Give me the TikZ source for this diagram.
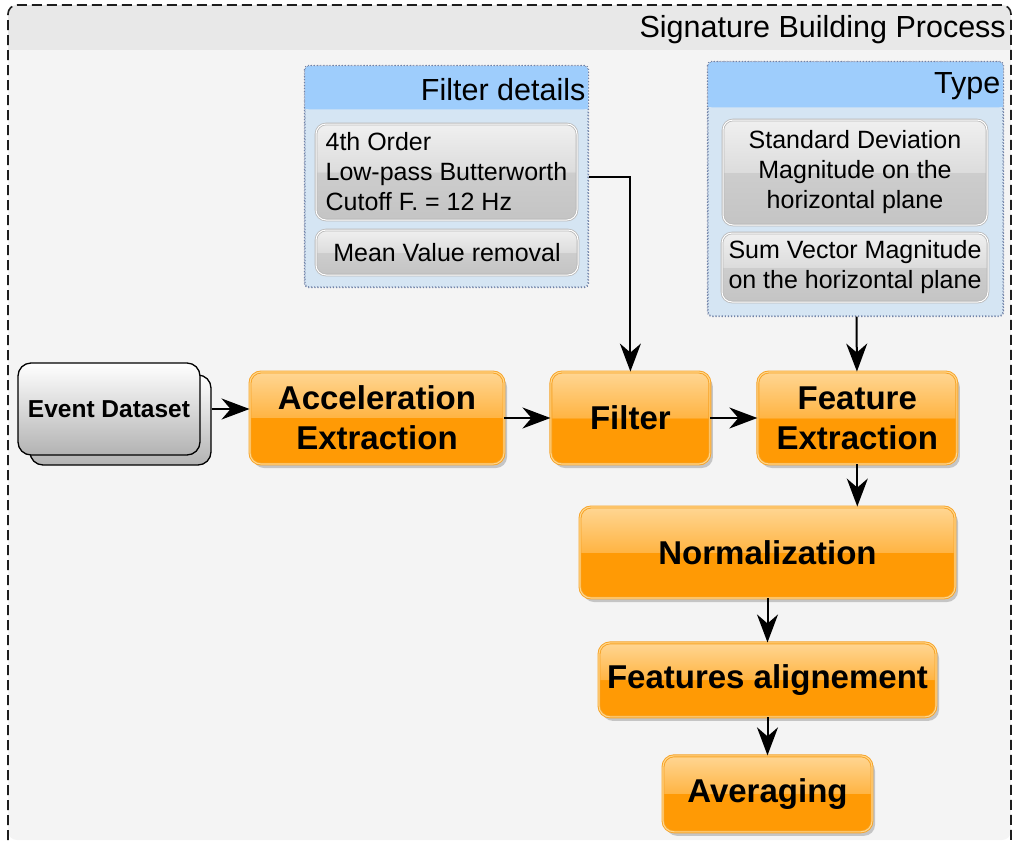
\documentclass[tikz,border=0pt]{standalone}
\usepackage{fontspec}
\setmainfont{Liberation Sans}
\usepackage{xcolor}
\usetikzlibrary{positioning,arrows.meta,calc,shadows}
\definecolor{framec}{HTML}{1E1E1E}
\definecolor{framebg}{HTML}{F4F4F4}
\definecolor{framehd}{HTML}{E8E8E8}
\definecolor{panbody}{HTML}{D5E5F3}
\definecolor{panhead}{HTML}{9ECDFC}
\definecolor{panline}{HTML}{6F82A8}
\definecolor{otop}{HTML}{FFD693}
\definecolor{omid}{HTML}{FFB443}
\definecolor{obot}{HTML}{FF9A05}
\definecolor{oline}{HTML}{F7A224}
\definecolor{olight}{HTML}{FFD68C}
\definecolor{gtop}{HTML}{F0F0F0}
\definecolor{gmid}{HTML}{DCDCDC}
\definecolor{gmidlo}{HTML}{CDCDCD}
\definecolor{gbot}{HTML}{C4C4C4}
\definecolor{gline}{HTML}{B9B9B9}
\pgfdeclareverticalshading{oglass}{100bp}{color(0bp)=(obot); color(50bp)=(obot);
  color(50bp)=(omid); color(75bp)=(otop); color(100bp)=(otop)}
\pgfdeclareverticalshading{gglass}{100bp}{color(0bp)=(gbot); color(25bp)=(gbot);
  color(50bp)=(gmidlo); color(50bp)=(gmid); color(75bp)=(gtop); color(100bp)=(gtop)}
\tikzset{
  proc/.style={shade,shading=oglass,draw=oline,double=olight,line width=.9pt,double distance=1.1pt,
               rounded corners=11pt,align=center,inner sep=0pt,
               font=\bfseries\fontsize{33}{40}\selectfont,
               drop shadow={shadow xshift=3pt,shadow yshift=-4pt,fill=black!45,opacity=.45}},
  item/.style={shade,shading=gglass,draw=gline,double=white,line width=.8pt,double distance=1pt,
               rounded corners=10pt,align=center,inner sep=0pt,
               font=\fontsize{25}{30}\selectfont},
  panel/.style={fill=panbody,draw=panline,line width=1.1pt,dotted,rounded corners=4pt,inner sep=0pt},
  ptitle/.style={anchor=east,inner sep=3pt,font=\fontsize{30.5}{33}\selectfont},
  data/.style={top color=white,bottom color=black!30,draw=black,line width=1.3pt,rounded corners=13pt,
               inner sep=0pt,align=center,font=\bfseries\fontsize{24.5}{28}\selectfont},
  fl/.style={-{Stealth[length=28pt,width=21pt,inset=9pt]},draw=black,line width=2pt}
}

\begin{document}
\begin{tikzpicture}[x=1pt,y=-1pt]
\useasboundingbox (0,0) rectangle (1013,841);
% outer frame
\path[fill=framebg,rounded corners=9pt] (8,840) -- (8,5) -- (1011,5) -- (1011,840) -- cycle;
\begin{scope}
  \clip[rounded corners=9pt] (8,840) -- (8,5) -- (1011,5) -- (1011,840) -- cycle;
  \fill[framehd] (8,5) rectangle (1011,50);
\end{scope}
\draw[framec,line width=1.6pt,dash pattern=on 10pt off 5pt,rounded corners=9pt]
  (8,840) -- (8,5) -- (1011,5) -- (1011,840);
\node[ptitle] (ttl) at (1009,30) {Signature Building Process};

% filter details
\node[panel,minimum width=283pt,minimum height=221pt] (fdet) at (446.5,176.5) {};
\fill[panhead,rounded corners=4pt] ($(fdet.north west)+(.6,.6)$) rectangle ($(fdet.north east)+(-.6,44)$);
\fill[panhead] ($(fdet.north west)+(.6,20)$) rectangle ($(fdet.north east)+(-.6,44)$);
\draw[panline,line width=1.1pt,dotted,rounded corners=4pt] (fdet.north west) rectangle (fdet.south east);
\node[ptitle] (fdett) at ($(fdet.north east)+(0,24)$) {Filter details};
\node[item,align=left,minimum width=261pt,minimum height=96pt] (fd1) at (446.5,172)
  {4th Order\\Low-pass Butterworth\\Cutoff F. = 12 Hz};
\node[item,minimum width=262pt,minimum height=45pt] (fd2) at (447,252.5) {Mean Value removal};

% type
\node[panel,minimum width=295pt,minimum height=254pt] (typ) at (855.5,189) {};
\fill[panhead,rounded corners=4pt] ($(typ.north west)+(.6,.6)$) rectangle ($(typ.north east)+(-.6,46)$);
\fill[panhead] ($(typ.north west)+(.6,20)$) rectangle ($(typ.north east)+(-.6,46)$);
\draw[panline,line width=1.1pt,dotted,rounded corners=4pt] (typ.north west) rectangle (typ.south east);
\node[ptitle] (typt) at ($(typ.north east)+(0,25)$) {Type};
\node[item,minimum width=264pt,minimum height=105pt] (ty1) at (855,172.5)
  {Standard Deviation\\Magnitude on the\\horizontal plane};
\node[item,minimum width=266pt,minimum height=69pt] (ty2) at (855,267.5)
  {Sum Vector Magnitude\\on the horizontal plane};

% event dataset
\node[data,minimum width=181pt,minimum height=90pt] (evb) at (120.5,420) {};
\node[data,minimum width=182pt,minimum height=92pt] (ev) at (109,409) {Event Dataset};

% process chain
\node[proc,minimum width=254pt,minimum height=92pt] (acc) at (377,418) {Acceleration\\Extraction};
\node[proc,minimum width=159pt,minimum height=92pt,right=46pt of acc] (flt) {Filter};
\node[proc,minimum width=199pt,minimum height=92pt,right=47pt of flt] (fex) {Feature\\Extraction};
\node[proc,minimum width=375pt,minimum height=91pt] (nrm) at (767.5,552.5) {Normalization};
\node[proc,minimum width=337pt,minimum height=74pt,below=44pt of nrm] (fal) {Features alignement};
\node[proc,minimum width=209pt,minimum height=76pt,below=38pt of fal] (avg) {Averaging};

\draw[fl] (ev.east -| evb.east) -- (ev.east -| acc.west);
\draw[fl] (acc) -- (flt);
\draw[fl] (flt) -- (fex);
\draw[fl] (fdet.east) -| (flt.north);
\draw[fl] (typ) -- (fex);
\draw[fl] (fex.south) -- (fex.south |- nrm.north);
\draw[fl] (nrm) -- (fal);
\draw[fl] (fal) -- (avg);
\end{tikzpicture}
\end{document}
